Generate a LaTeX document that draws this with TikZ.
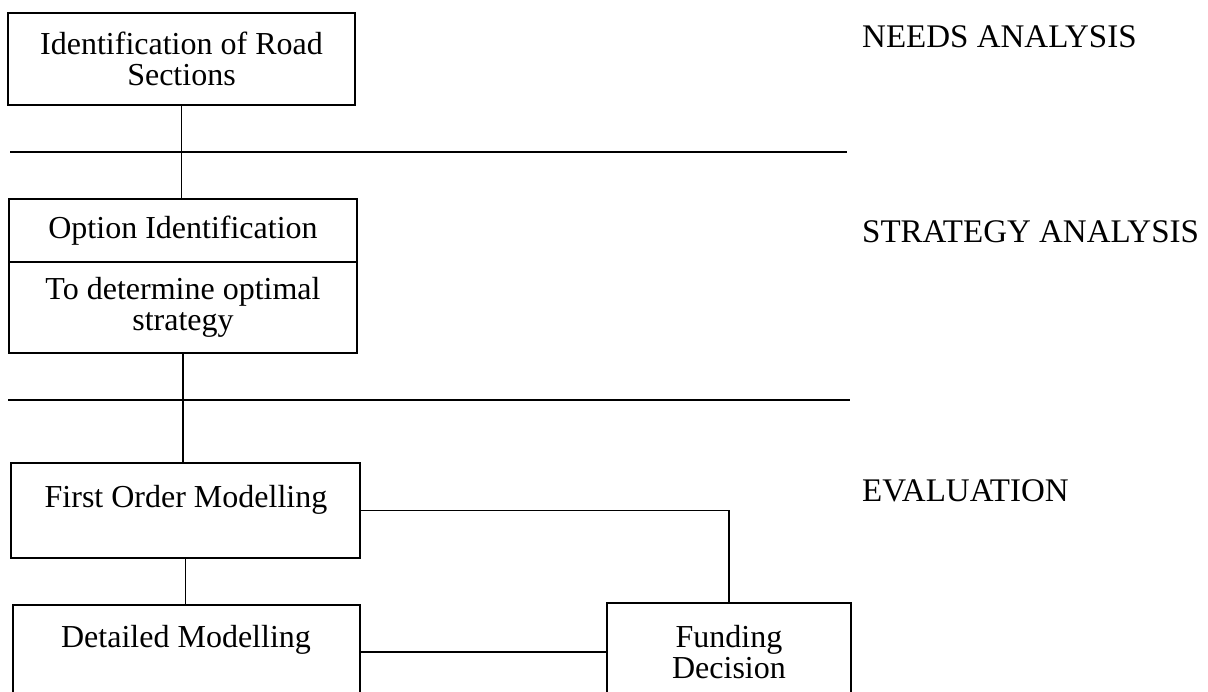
\documentclass[tikz,border=0pt]{standalone}
\usepackage{fontspec}
\setmainfont{Liberation Serif}
\begin{document}
\begin{tikzpicture}[x=1pt,y=-1pt,
  box/.style={draw, line width=1.6pt, rectangle, inner sep=0pt, align=center,
    font=\fontsize{32}{30.5}\selectfont},
  txt/.style={inner sep=0pt, align=center, font=\fontsize{32}{30.5}\selectfont},
  phase/.style={inner sep=0pt, anchor=west, font=\fontsize{33}{30}\selectfont},
  conn/.style={line width=1.5pt},
  sepline/.style={line width=1.8pt}]
\useasboundingbox (0,0) rectangle (1208,692);
\clip (0,0) rectangle (1208,692);
% boxes
\node[box, minimum width=347pt, minimum height=92pt] (b1) at (181.5,59) {Identification of Road\\Sections};
\node[box, minimum width=348pt, minimum height=63pt] (b2a) at (183,230.5) {Option Identification};
\node[box, minimum width=348pt, minimum height=91pt] (b2b) at (183,307.5) {To determine optimal\\strategy};
\node[box, minimum width=349pt, minimum height=95pt] (b3) at (185.5,510.5) {};
\node[box, minimum width=347pt, minimum height=120pt] (b4) at (186.5,665) {};
\node[box, minimum width=244pt, minimum height=122pt] (b5) at (729,664) {};
% texts inside open boxes
\node[txt] (t3) at (186,500) {First Order Modelling};
\node[txt] (t4) at (186,640) {Detailed Modelling};
\node[txt] (t5) at (729,652) {Funding\\Decision};
% phase labels
\node[phase] (p1) at (862,37) {NEEDS ANALYSIS};
\node[phase] (p2) at (862,232) {STRATEGY ANALYSIS};
\node[phase] (p3) at (862,491) {EVALUATION};
% separators
\coordinate (s1a) at (10,152);
\coordinate (s1b) at (847,152);
\coordinate (s2a) at (8,400);
\coordinate (s2b) at (850,400);
\draw[sepline] (s1a) -- (s1b);
\draw[sepline] (s2a) -- (s2b);
% connectors
\draw[conn] (b1.south) -- (b1.south |- b2a.north);
\draw[conn] (b2b.south) -- (b2b.south |- b3.north);
\draw[conn] (b3.south) -- (b3.south |- b4.north);
\draw[conn] (b3.east) -| (b5.north);
\coordinate (m) at (0,652);
\draw[conn] (m -| b4.east) -- (m -| b5.west);
\end{tikzpicture}
\end{document}
